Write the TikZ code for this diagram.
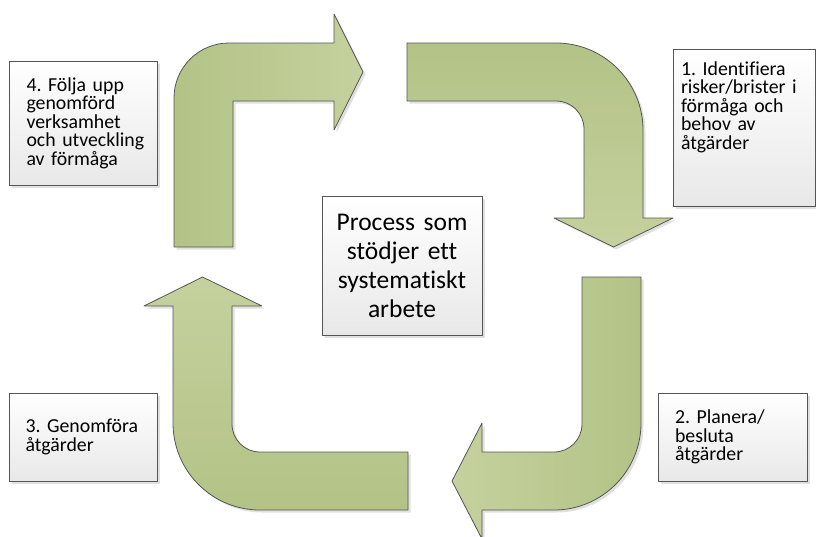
\documentclass[tikz,border=0pt]{standalone}
\usepackage{fontspec}
\setmainfont{Carlito}[Ligatures=NoCommon]
\frenchspacing
\usetikzlibrary{shadows}

\definecolor{olivedark}{RGB}{179,195,134}
\definecolor{olivelight}{RGB}{197,209,158}
\definecolor{edgegray}{RGB}{85,85,85}

\tikzset{
  softshadow/.style={drop shadow={shadow xshift=2.5pt,shadow yshift=-2.5pt,fill=black!12,opacity=1}},
  bentarrow/.style={draw=edgegray,line width=0.8pt,line join=round,softshadow},
  stepbox/.style={draw=edgegray,line width=0.8pt,top color=white,bottom color=black!9,softshadow,
    align=left,inner ysep=0pt,font=\fontsize{19.8}{18.5}\selectfont},
  centerbox/.style={stepbox,align=center,font=\fontsize{25.5}{29}\selectfont}
}

\begin{document}
\begin{tikzpicture}[x=1pt,y=-1pt]
            \useasboundingbox (0,0) rectangle (816,536);
            \path[bentarrow,left color=olivedark,right color=olivelight]
              (174,247) -- (174,98) .. controls (174,67.6) and (198.6,43) .. (229,43)
              -- (334,43) -- (334,14) -- (363,72) -- (334,130) -- (334,101)
              -- (233,101) -- (233,247) -- cycle;
            \path[bentarrow,top color=olivedark,bottom color=olivelight]
              (407,43) -- (556,43) .. controls (604,43) and (643,82) .. (643,130)
              -- (643,218) -- (673,218) -- (613.5,247) -- (554,218) -- (584,218)
              -- (584,129) .. controls (584,113.5) and (571.5,101) .. (556,101)
              -- (407,101) -- cycle;
            \path[bentarrow,left color=olivelight,right color=olivedark]
              (582,277) -- (641,277) -- (641,423) .. controls (641,471) and (602,510) .. (554,510)
              -- (482,510) -- (482,539) -- (452,481) -- (482,423) -- (482,452)
              -- (554,452) .. controls (569.5,452) and (582,439.5) .. (582,424) -- cycle;
            \path[bentarrow,top color=olivelight,bottom color=olivedark]
              (408,452) -- (260,452) .. controls (244.5,452) and (232,439.5) .. (232,424)
              -- (232,306) -- (262,306) -- (202.5,277) -- (144,306) -- (173,306)
              -- (173,423) .. controls (173,471) and (212,510) .. (260,510)
              -- (408,510) -- cycle;
            \node[stepbox,anchor=north,minimum width=142pt,text width=126pt,inner xsep=8pt,
              inner ysep=12pt,text depth=119pt] (identifiera) at (744,49)
              {1. Identifiera\\risker/brister i\\förmåga och\\behov av\\åtgärder};
            \node[stepbox,minimum width=149pt,minimum height=88pt,text width=115pt,inner xsep=17pt]
              (planera) at (732.5,437) {2. Planera/\\besluta\\åtgärder};
            \node[stepbox,minimum width=148pt,minimum height=88pt,text width=115pt,inner xsep=16.5pt]
              (genomfora) at (83,437) {3. Genomföra\\åtgärder};
            \node[stepbox,minimum width=148pt,minimum height=124pt,text width=113pt,inner xsep=17.5pt]
              (folja) at (83,123) {4. Följa upp\\genomförd\\verksamhet\\\mbox{och utveckling}\\av förmåga};
            \node[centerbox,minimum width=160pt,minimum height=139pt,text width=140pt,inner xsep=10pt]
              (process) at (402,265.5) {Process som\\stödjer ett\\systematiskt\\arbete};
        \end{tikzpicture}
\end{document}
